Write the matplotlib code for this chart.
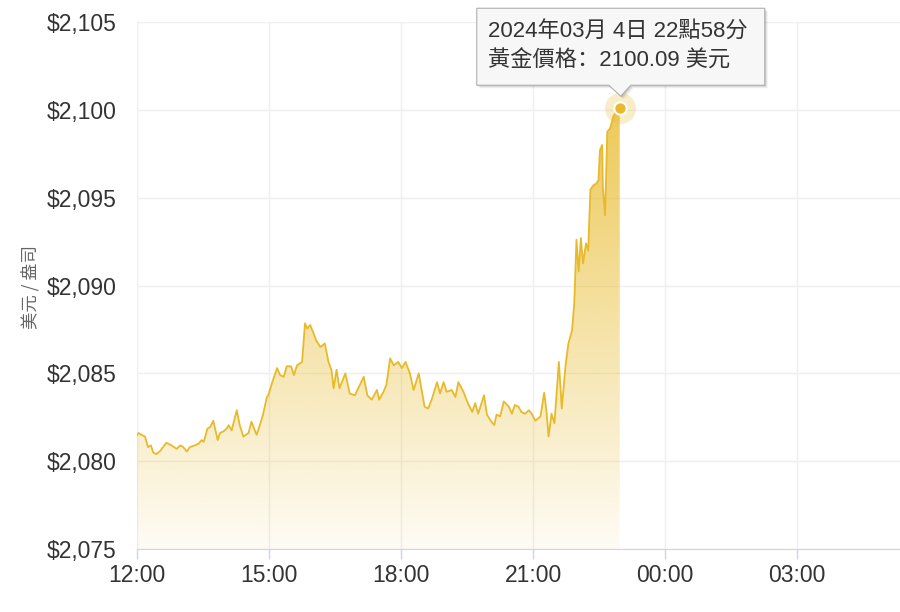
import numpy as np
import pandas as pd
import matplotlib
matplotlib.use('Agg')
import matplotlib.pyplot as plt
import matplotlib.dates as mdates
from matplotlib.patches import Polygon
from matplotlib.transforms import IdentityTransform

# gold price, 4 March 2024 (USD / oz)
times = ['12:00', '12:02', '12:06', '12:11', '12:15', '12:19', '12:22', '12:26', '12:31', '12:40',
         '12:47', '12:54', '12:59', '13:03', '13:08', '13:12', '13:19', '13:24', '13:28', '13:31',
         '13:36', '13:40', '13:44', '13:50', '13:53', '13:58', '14:02', '14:05', '14:09', '14:16',
         '14:20', '14:25', '14:32', '14:36', '14:43', '14:49', '14:52', '14:57', '14:59', '15:04',
         '15:11', '15:15', '15:20', '15:24', '15:30', '15:34', '15:38', '15:45', '15:49', '15:52',
         '15:56', '16:00', '16:04', '16:10', '16:16', '16:21', '16:25', '16:28', '16:32', '16:36',
         '16:44', '16:50', '16:57', '17:09', '17:14', '17:20', '17:27', '17:30', '17:36', '17:40',
         '17:45', '17:50', '17:56', '18:01', '18:06', '18:12', '18:17', '18:24', '18:32', '18:37',
         '18:42', '18:49', '18:53', '18:58', '19:02', '19:09', '19:14', '19:18', '19:25', '19:31',
         '19:37', '19:41', '19:45', '19:53', '19:57', '20:03', '20:07', '20:10', '20:15', '20:20',
         '20:27', '20:31', '20:35', '20:40', '20:44', '20:49', '20:54', '20:58', '21:03', '21:10',
         '21:15', '21:18', '21:21', '21:25', '21:29', '21:35', '21:39', '21:44', '21:48', '21:53',
         '21:56', '21:59', '22:02', '22:05', '22:08', '22:12', '22:15', '22:18', '22:22', '22:26',
         '22:29', '22:31', '22:34', '22:35', '22:38', '22:41', '22:45', '22:49', '22:53', '22:56',
         '22:58']
prices = [2081.5, 2081.6, 2081.5, 2081.4, 2080.8, 2080.9, 2080.5, 2080.4, 2080.55, 2081.05,
          2080.9, 2080.7, 2080.9, 2080.8, 2080.55, 2080.8, 2080.9, 2081.0, 2081.2, 2081.1,
          2081.85, 2081.95, 2082.3, 2081.2, 2081.6, 2081.7, 2081.85, 2082.05, 2081.75, 2082.9,
          2082.05, 2081.4, 2081.6, 2082.25, 2081.5, 2082.25, 2082.7, 2083.65, 2083.75, 2084.45,
          2085.3, 2084.9, 2084.8, 2085.4, 2085.4, 2084.9, 2085.45, 2085.65, 2087.85, 2087.55,
          2087.75, 2087.35, 2086.9, 2086.5, 2086.7, 2085.65, 2085.2, 2084.15, 2085.2, 2084.15,
          2085.0, 2083.85, 2083.75, 2084.8, 2083.75, 2083.5, 2084.05, 2083.5, 2083.95, 2084.35,
          2085.85, 2085.45, 2085.65, 2085.3, 2085.65, 2085.0, 2084.05, 2085.0, 2083.1, 2083.0,
          2083.55, 2084.5, 2083.85, 2084.5, 2083.95, 2084.05, 2083.65, 2084.5, 2083.95, 2083.3,
          2082.8, 2083.3, 2082.7, 2083.75, 2082.65, 2082.25, 2082.05, 2082.65, 2082.55, 2083.4,
          2083.1, 2082.7, 2083.2, 2083.1, 2082.8, 2082.7, 2082.9, 2082.7, 2082.3, 2082.55,
          2083.9, 2082.9, 2081.4, 2082.7, 2082.15, 2085.65, 2083.0, 2085.4, 2086.7, 2087.45,
          2089.0, 2092.6, 2090.8, 2092.7, 2091.25, 2092.4, 2092.0, 2095.45, 2095.7, 2095.8,
          2096.0, 2097.7, 2098.0, 2095.6, 2094.0, 2098.75, 2098.95, 2099.6, 2099.9, 2100.05,
          2100.09]
y_ticks = [2075, 2080, 2085, 2090, 2095, 2100, 2105]
x_start = '2024-03-04 12:00'
x_end = '2024-03-05 05:20'

gold = '#E8BA2A'
txt = '#333333'
plt.rcParams['font.family'] = ['Liberation Sans', 'Noto Sans CJK SC', 'DejaVu Sans']

fig = plt.figure(figsize=(9, 6.12), dpi=100)
ax = fig.add_axes([137/900, 1 - 549/612, 1 - 137/900, (549 - 22)/612])

t = mdates.date2num(pd.to_datetime(['2024-03-04 ' + s for s in times]))
x0 = mdates.date2num(pd.Timestamp(x_start))
x1 = mdates.date2num(pd.Timestamp(x_end))

# gradient area under the line
fill = ax.fill_between(t, prices, y_ticks[0], color='none', lw=0)
path = fill.get_paths()[0]
n = 256
grad = np.zeros((n, 1, 4))
grad[:, 0, :3] = matplotlib.colors.to_rgb(gold)
grad[:, 0, 3] = np.linspace(0.05, 0.92, n)
im = ax.imshow(grad, extent=[x0, x1, y_ticks[0], y_ticks[-1]], origin='lower',
               aspect='auto', zorder=1)
im.set_clip_path(path, transform=ax.transData)

ax.plot(t, prices, color=gold, lw=1.3, zorder=3)

ax.set_xlim(x0, x1)
ax.set_ylim(y_ticks[0], y_ticks[-1])
ax.set_yticks(y_ticks)
ax.set_yticklabels(['$' + format(v, ',') for v in y_ticks])
ax.xaxis.set_major_locator(mdates.HourLocator(byhour=[0, 3, 6, 9, 12, 15, 18, 21]))
ax.xaxis.set_major_formatter(mdates.DateFormatter('%H:%M'))

ax.grid(True, color='#efefef', lw=1, zorder=0)
ax.set_axisbelow(True)
for s in ['top', 'right', 'left']:
    ax.spines[s].set_visible(False)
ax.spines['bottom'].set_color('#ccd6eb')
ax.tick_params(axis='y', length=0, pad=15, labelsize=16.5, labelcolor=txt)
ax.tick_params(axis='x', length=7, width=1, color='#ccd6eb', pad=4, labelsize=16.5, labelcolor=txt)

fig.text(30/900, 1 - 287/612, '美元 / 盎司', rotation=90, ha='center', va='center',
         fontsize=12.5, color='#666666', family=['Noto Sans CJK TC', 'DejaVu Sans'])

# hovered point
ax.scatter([t[-1]], [prices[-1]], s=500, color=gold, alpha=0.25, lw=0, zorder=4)
ax.scatter([t[-1]], [prices[-1]], s=80, color=gold, edgecolor='white', lw=1.5, zorder=5)

# tooltip
fig.canvas.draw()
px, py = ax.transData.transform((t[-1], prices[-1]))
L, R, B, T = px - 143, px + 145, py + 23, py + 100
verts = [(L, B), (px - 11, B), (px + 1, py + 12), (px + 11, B), (R, B), (R, T), (L, T)]
for k, a in [(3, 0.05), (2, 0.08), (1, 0.1)]:
    shadow = Polygon([(vx + k, vy - k) for vx, vy in verts], closed=True,
                     facecolor='black', alpha=a, lw=0, transform=IdentityTransform())
    fig.add_artist(shadow)
box = Polygon(verts, closed=True, facecolor='#f7f7f7', edgecolor='#b0b0b0', lw=0.8,
              transform=IdentityTransform())
fig.add_artist(box)
fig.text((L + 11) / 900, (T - 24) / 612, '2024年03月 4日 22點58分', ha='left', va='center',
         fontsize=16, color=txt)
fig.text((L + 11) / 900, (T - 53) / 612, '黃金價格：' + format(prices[-1], '.2f') + ' 美元',
         ha='left', va='center', fontsize=16, color=txt)

fig.savefig('out.png', dpi=100)
